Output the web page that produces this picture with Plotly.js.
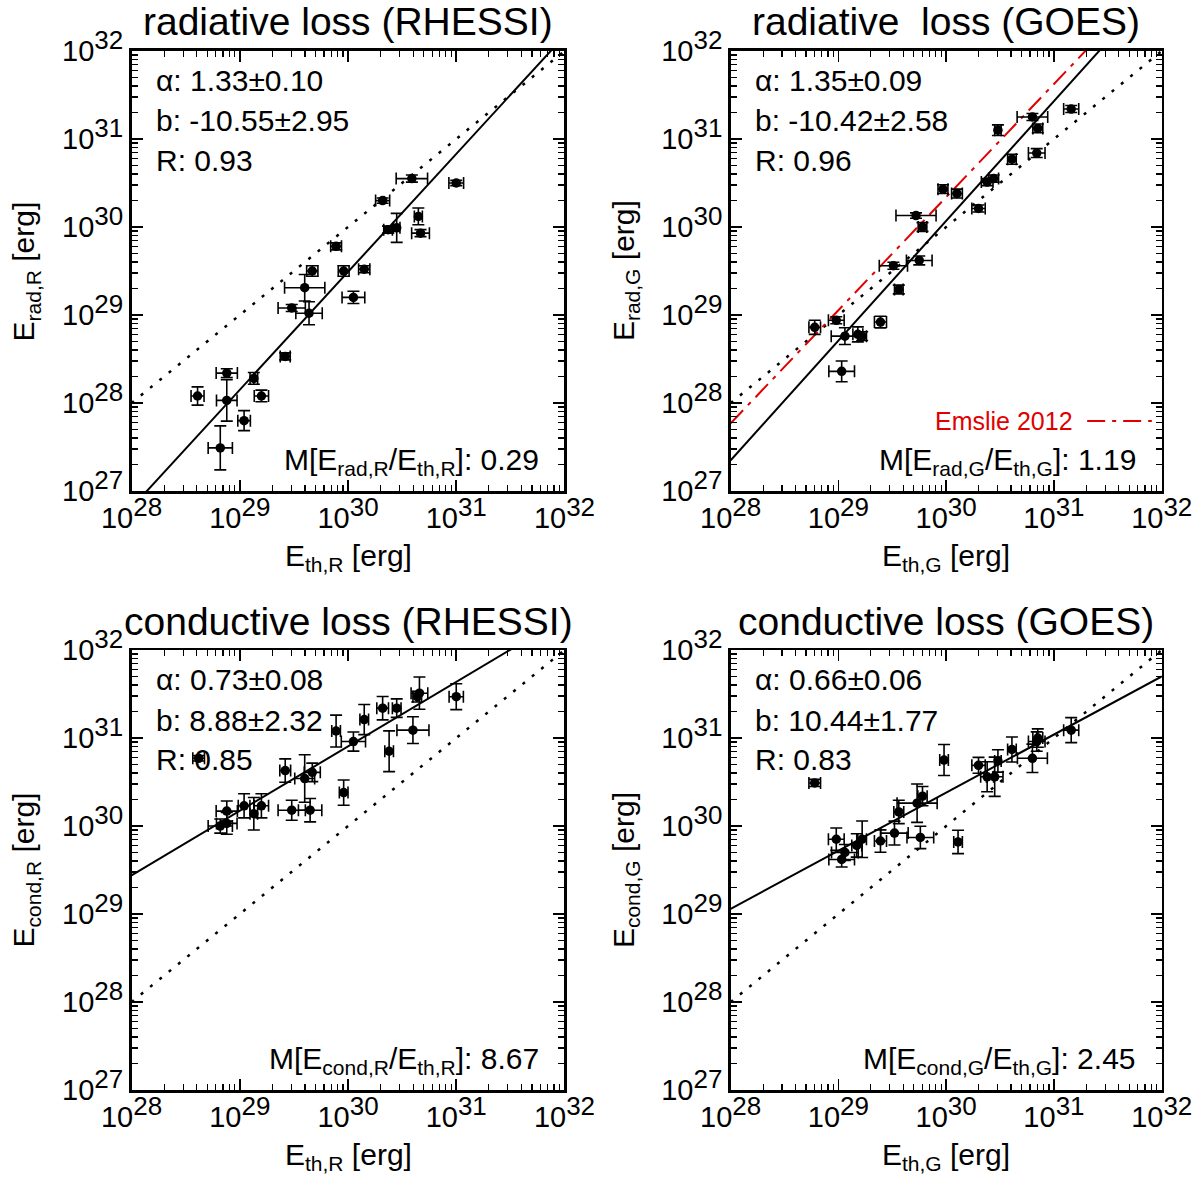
<!DOCTYPE html>
<html>
<head>
<meta charset="utf-8">
<script src="https://cdn.plot.ly/plotly-3.0.1.min.js"></script>
<style>
  body { margin: 0; background: #fff; }
  #plot { width: 1200px; height: 1177px; }
</style>
</head>
<body>
<div id="plot"></div>
<script>
// All values are log10(E / erg), errors are in dex

// radiative loss (RHESSI)
const radR_eth = [30.59, 31.00, 30.32, 30.65, 30.67, 30.37, 30.45, 29.89, 29.67, 29.96, 30.15, 29.60, 30.05, 29.48, 29.64, 29.42, 28.88, 29.13, 28.61, 29.20, 28.88, 29.04, 28.82];
const radR_dEth = [0.145, 0.068, 0.065, 0.037, 0.082, 0.04, 0.03, 0.05, 0.052, 0.05, 0.052, 0.186, 0.105, 0.126, 0.122, 0.046, 0.098, 0.035, 0.06, 0.066, 0.095, 0.058, 0.112];
const radR_erad = [30.55, 30.50, 30.30, 30.12, 29.93, 29.97, 29.99, 29.78, 29.50, 29.50, 29.52, 29.31, 29.20, 29.08, 29.02, 28.53, 28.34, 28.28, 28.08, 28.08, 28.03, 27.80, 27.49];
const radR_dErad = [0.04, 0.03, 0.03, 0.095, 0.04, 0.04, 0.165, 0.04, 0.06, 0.06, 0.04, 0.15, 0.07, 0.04, 0.13, 0.04, 0.05, 0.066, 0.104, 0.066, 0.236, 0.114, 0.25];
const radR_fitX = [28, 32];
const radR_fitY = [26.81, 32.17];

// radiative loss (GOES)
const radG_eth = [31.16, 30.80, 30.85, 30.48, 30.84, 30.61, 30.44, 30.38, 29.97, 30.10, 30.30, 29.72, 29.78, 29.75, 29.51, 29.56, 29.39, 28.98, 28.78, 29.06, 29.18, 29.22, 29.03];
const radG_dEth = [0.07, 0.142, 0.046, 0.03, 0.077, 0.04, 0.046, 0.054, 0.046, 0.05, 0.062, 0.186, 0.04, 0.119, 0.131, 0.04, 0.056, 0.073, 0.054, 0.127, 0.046, 0.04, 0.119];
const radG_erad = [31.34, 31.25, 31.12, 31.10, 30.84, 30.77, 30.55, 30.51, 30.43, 30.38, 30.21, 30.13, 30.00, 29.62, 29.56, 29.29, 28.92, 28.94, 28.86, 28.76, 28.78, 28.76, 28.36];
const radG_dErad = [0.04, 0.04, 0.05, 0.06, 0.05, 0.057, 0.04, 0.04, 0.05, 0.05, 0.04, 0.03, 0.05, 0.05, 0.04, 0.05, 0.066, 0.04, 0.08, 0.095, 0.085, 0.05, 0.118];
const radG_fitX = [28, 32];
const radG_fitY = [27.35, 32.79];
const emslieX = [28, 32];
const emslieY = [27.77, 32.91];

// conductive loss (RHESSI)
const condR_eth = [31.00, 30.66, 30.64, 30.45, 30.32, 30.15, 30.60, 29.89, 30.05, 30.38, 28.62, 29.42, 29.67, 29.60, 29.96, 29.48, 29.65, 29.04, 29.20, 29.13, 28.88, 28.82, 28.88];
const condR_dEth = [0.066, 0.077, 0.04, 0.04, 0.054, 0.04, 0.148, 0.04, 0.112, 0.04, 0.054, 0.05, 0.074, 0.092, 0.04, 0.126, 0.108, 0.054, 0.066, 0.035, 0.098, 0.112, 0.095];
const condR_econd = [31.47, 31.51, 31.47, 31.34, 31.34, 31.21, 31.09, 31.08, 30.96, 30.85, 30.77, 30.63, 30.61, 30.54, 30.38, 30.18, 30.18, 30.23, 30.23, 30.14, 30.17, 30.00, 30.03];
const condR_dEcond = [0.147, 0.183, 0.06, 0.105, 0.133, 0.171, 0.152, 0.181, 0.108, 0.232, 0.03, 0.133, 0.105, 0.27, 0.143, 0.114, 0.133, 0.137, 0.137, 0.185, 0.114, 0.08, 0.124];
const condR_fitX = [28, 32];
const condR_fitY = [29.44, 32.37];

// conductive loss (GOES)
const condG_eth = [31.16, 30.85, 30.84, 30.80, 30.61, 30.48, 30.30, 30.38, 30.45, 29.98, 28.78, 29.78, 29.73, 29.56, 29.52, 29.76, 30.11, 29.39, 28.98, 29.22, 29.17, 29.06, 29.03];
const condG_dEth = [0.07, 0.046, 0.077, 0.139, 0.04, 0.03, 0.062, 0.06, 0.077, 0.04, 0.054, 0.043, 0.186, 0.046, 0.127, 0.124, 0.04, 0.056, 0.073, 0.04, 0.046, 0.124, 0.119];
const condG_econd = [31.09, 31.00, 30.96, 30.77, 30.87, 30.74, 30.69, 30.56, 30.56, 30.75, 30.49, 30.34, 30.26, 30.16, 29.92, 29.87, 29.82, 29.83, 29.85, 29.85, 29.78, 29.70, 29.62];
const condG_dEcond = [0.142, 0.104, 0.11, 0.161, 0.142, 0.127, 0.09, 0.17, 0.223, 0.176, 0.04, 0.11, 0.218, 0.133, 0.136, 0.127, 0.133, 0.127, 0.127, 0.208, 0.133, 0.09, 0.085];
const condG_fitX = [28, 32];
const condG_fitY = [29.06, 31.70];

// one-to-one line
const equalX = [28, 32];
const equalY = [28, 32];

const FONT = 'Liberation Sans, Arial, Helvetica, sans-serif';

/*
  Panel setup
*/
const panels = [
  {
    ax: '', x: radR_eth, dx: radR_dEth, y: radR_erad, dy: radR_dErad,
    fitX: radR_fitX, fitY: radR_fitY,
    title: 'radiative loss (RHESSI)',
    xtitle: 'E<sub>th,R</sub> [erg]', ytitle: 'E<sub>rad,R</sub> [erg]',
    stats: ['α: 1.33±0.10', 'b: -10.55±2.95', 'R: 0.93'],
    ratio: 'M[E<sub>rad,R</sub>/E<sub>th,R</sub>]: 0.29',
  },
  {
    ax: '2', x: radG_eth, dx: radG_dEth, y: radG_erad, dy: radG_dErad,
    fitX: radG_fitX, fitY: radG_fitY,
    title: 'radiative\u00a0 loss (GOES)',
    xtitle: 'E<sub>th,G</sub> [erg]', ytitle: 'E<sub>rad,G</sub> [erg]',
    stats: ['α: 1.35±0.09', 'b: -10.42±2.58', 'R: 0.96'],
    ratio: 'M[E<sub>rad,G</sub>/E<sub>th,G</sub>]: 1.19',
  },
  {
    ax: '3', x: condR_eth, dx: condR_dEth, y: condR_econd, dy: condR_dEcond,
    fitX: condR_fitX, fitY: condR_fitY,
    title: 'conductive loss (RHESSI)',
    xtitle: 'E<sub>th,R</sub> [erg]', ytitle: 'E<sub>cond,R</sub> [erg]',
    stats: ['α: 0.73±0.08', 'b: 8.88±2.32', 'R: 0.85'],
    ratio: 'M[E<sub>cond,R</sub>/E<sub>th,R</sub>]: 8.67',
  },
  {
    ax: '4', x: condG_eth, dx: condG_dEth, y: condG_econd, dy: condG_dEcond,
    fitX: condG_fitX, fitY: condG_fitY,
    title: 'conductive loss (GOES)',
    xtitle: 'E<sub>th,G</sub> [erg]', ytitle: 'E<sub>cond,G</sub> [erg]',
    stats: ['α: 0.66±0.06', 'b: 10.44±1.77', 'R: 0.83'],
    ratio: 'M[E<sub>cond,G</sub>/E<sub>th,G</sub>]: 2.45',
  },
];

const pow10 = (v) => Math.pow(10, v);
const errPlus = (v, e) => v.map((d, i) => pow10(d + e[i]) - pow10(d));
const errMinus = (v, e) => v.map((d, i) => pow10(d) - pow10(d - e[i]));

// tick positions: decades + 2..9 minor ticks
function decadeTicks(lo, hi) {
  const major = [], minor = [], text = [];
  for (let n = lo; n <= hi; n++) {
    major.push(pow10(n));
    // IDL draws the exponent nearly as wide as the mantissa
    text.push('10<sup><span style="font-size:26px">' + n + '</span></sup>');
    if (n < hi) for (let k = 2; k <= 9; k++) minor.push(k * pow10(n));
  }
  return { major, minor, text };
}
const xt = decadeTicks(28, 32);
const yt = decadeTicks(27, 32);

function axisStyle(range, t) {
  return {
    type: 'log',
    range: range,
    showline: true, linecolor: '#000', linewidth: 2.5,
    mirror: 'allticks',
    ticks: 'inside', ticklen: 11, tickwidth: 1.5, tickcolor: '#000',
    tickmode: 'array', tickvals: t.major, ticktext: t.text,
    tickfont: { family: FONT, size: 29, color: '#000' },
    minor: { ticks: 'inside', ticklen: 6, tickwidth: 1.2, tickcolor: '#000', tickmode: 'array', tickvals: t.minor },
    showgrid: false, zeroline: false, fixedrange: true,
  };
}

const xDomains = [[0.1096, 0.4704], [0.6089, 0.9681], [0.1096, 0.4704], [0.6089, 0.9681]];
const yDomains = [[0.5828, 0.9567], [0.5828, 0.9567], [0.0739, 0.4477], [0.0739, 0.4477]];

const traces = [];
const annotations = [];
const shapes = [];
const layout = {
  width: 1200, height: 1177,
  margin: { l: 0, r: 0, t: 0, b: 0 },
  paper_bgcolor: '#fff', plot_bgcolor: '#fff',
  showlegend: false,
  font: { family: FONT, color: '#000' },
};

panels.forEach((p, i) => {
  const xa = 'x' + p.ax, ya = 'y' + p.ax;
  layout['xaxis' + p.ax] = Object.assign(axisStyle([28, 32], xt), { domain: xDomains[i], anchor: ya });
  layout['yaxis' + p.ax] = Object.assign(axisStyle([27, 32], yt), { domain: yDomains[i], anchor: xa });

  // one-to-one dotted line
  traces.push({
    x: equalX.map(pow10), y: equalY.map(pow10), xaxis: xa, yaxis: ya,
    mode: 'lines', line: { color: '#000', width: 2.5, dash: '3px,9px' }, hoverinfo: 'skip',
  });
  // Emslie 2012 relation on the GOES radiative panel
  if (i === 1) {
    traces.push({
      x: emslieX.map(pow10), y: emslieY.map(pow10), xaxis: xa, yaxis: ya,
      mode: 'lines', line: { color: '#e00000', width: 2, dash: '18px,7px,4px,7px' }, hoverinfo: 'skip',
    });
  }
  // power law fit
  traces.push({
    x: p.fitX.map(pow10), y: p.fitY.map(pow10), xaxis: xa, yaxis: ya,
    mode: 'lines', line: { color: '#000', width: 2 }, hoverinfo: 'skip',
  });
  // events with error bars
  traces.push({
    x: p.x.map(pow10), y: p.y.map(pow10), xaxis: xa, yaxis: ya,
    mode: 'markers', type: 'scatter',
    marker: { color: '#000', size: 9.5, symbol: 'circle' },
    error_x: { type: 'data', array: errPlus(p.x, p.dx), arrayminus: errMinus(p.x, p.dx), color: '#000', thickness: 1.6, width: 6 },
    error_y: { type: 'data', array: errPlus(p.y, p.dy), arrayminus: errMinus(p.y, p.dy), color: '#000', thickness: 1.6, width: 6 },
  });

  const xr = xa + ' domain', yr = ya + ' domain';
  // panel title
  annotations.push({
    xref: xr, yref: yr, x: 0.5, y: 1.066, text: p.title, showarrow: false,
    xanchor: 'center', yanchor: 'middle', font: { size: 39 },
  });
  // axis titles
  annotations.push({
    xref: xr, yref: yr, x: 0.5, y: -0.152, text: p.xtitle, showarrow: false,
    xanchor: 'center', yanchor: 'middle', font: { size: 30 },
  });
  annotations.push({
    xref: xr, yref: yr, x: -0.245, y: 0.5, text: p.ytitle, showarrow: false, textangle: -90,
    xanchor: 'center', yanchor: 'middle', font: { size: 30 },
  });
  // fit statistics
  [0.932, 0.841, 0.752].forEach((yy, k) => {
    annotations.push({
      xref: xr, yref: yr, x: 0.051, y: yy, text: p.stats[k], showarrow: false,
      xanchor: 'left', yanchor: 'middle', font: { size: 30 },
    });
  });
  annotations.push({
    xref: xr, yref: yr, x: 0.946, y: 0.066, text: p.ratio, showarrow: false,
    xanchor: 'right', yanchor: 'middle', font: { size: 30 },
  });
});

// legend for the Emslie line
annotations.push({
  xref: 'x2 domain', yref: 'y2 domain', x: 0.799, y: 0.159, text: 'Emslie 2012', showarrow: false,
  xanchor: 'right', yanchor: 'middle', font: { size: 25, color: '#e00000' },
});
shapes.push({
  type: 'line', xref: 'x2 domain', yref: 'y2 domain', x0: 0.827, x1: 0.977, y0: 0.159, y1: 0.159,
  line: { color: '#e00000', width: 2, dash: '18px,7px,4px,7px' },
});

layout.annotations = annotations;
layout.shapes = shapes;

var config = { responsive: false, displayModeBar: false, staticPlot: true };

Plotly.newPlot('plot', traces, layout, config);
</script>
</body>
</html>
